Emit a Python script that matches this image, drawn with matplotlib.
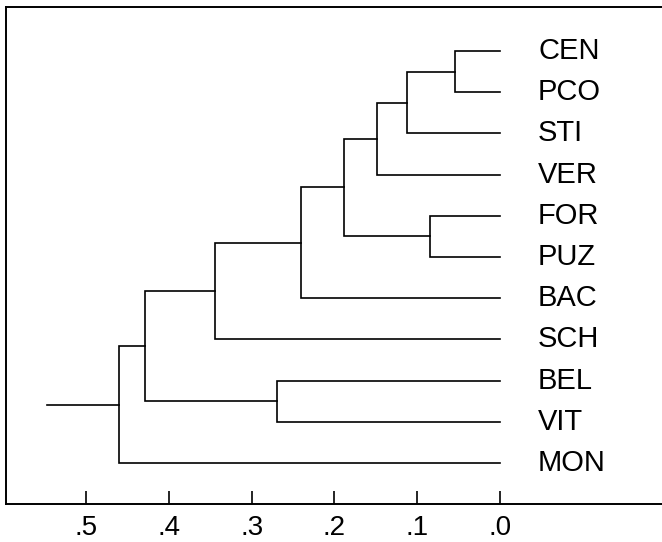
import matplotlib.pyplot as plt
from matplotlib.ticker import FuncFormatter

# Leaves, top to bottom
leaves = ['CEN', 'PCO', 'STI', 'VER', 'FOR', 'PUZ', 'BAC', 'SCH', 'BEL', 'VIT', 'MON']

# Merges: (left child, right child, distance); children are leaf names or merge ids "m0", "m1", ...
merge_left = ['CEN', 'm0', 'm1', 'FOR', 'm2', 'm4', 'm5', 'BEL', 'm6', 'm8']
merge_right = ['PCO', 'STI', 'VER', 'PUZ', 'm3', 'BAC', 'SCH', 'VIT', 'm7', 'MON']
merge_height = [0.054, 0.112, 0.149, 0.084, 0.188, 0.240, 0.345, 0.270, 0.429, 0.461]
root_start = 0.547

tick_values = [0.5, 0.4, 0.3, 0.2, 0.1, 0.0]

plt.rcParams['font.family'] = ['Liberation Sans', 'DejaVu Sans']

fig = plt.figure(figsize=(6.62, 5.42), dpi=100)
# axes run past the right edge of the figure: the frame is open on that side
ax = fig.add_axes([6 / 662, 38 / 542, 700 / 662, 497 / 542])
lw = 1.2

# position (y) and height (x) of every node
pos = {name: i for i, name in enumerate(leaves)}
hgt = {name: 0.0 for name in leaves}

for k, (a, b, h) in enumerate(zip(merge_left, merge_right, merge_height)):
    ya, yb = pos[a], pos[b]
    ax.plot([hgt[a], h, h, hgt[b]], [ya, ya, yb, yb], color='black', lw=lw,
            solid_joinstyle='miter')
    node = f'm{k}'
    pos[node] = (ya + yb) / 2
    hgt[node] = h

# root stub
last = f'm{len(merge_height) - 1}'
ax.plot([hgt[last], root_start], [pos[last], pos[last]], color='black', lw=lw)

for i, name in enumerate(leaves):
    ax.text(-0.046, i, name, ha='left', va='center', fontsize=21)

ax.set_xlim(0.597, -0.249)
ax.set_ylim(10.995, -1.068)

ax.set_xticks(tick_values)
ax.xaxis.set_major_formatter(FuncFormatter(lambda v, p: f'.{int(round(v * 10))}'))
ax.tick_params(axis='x', direction='in', length=9.5, width=1.2, pad=8,
               labelsize=20)
ax.set_yticks([])

ax.spines['right'].set_visible(False)
for s in ['left', 'top', 'bottom']:
    ax.spines[s].set_linewidth(1.4)

fig.savefig('out.png', dpi=100)
